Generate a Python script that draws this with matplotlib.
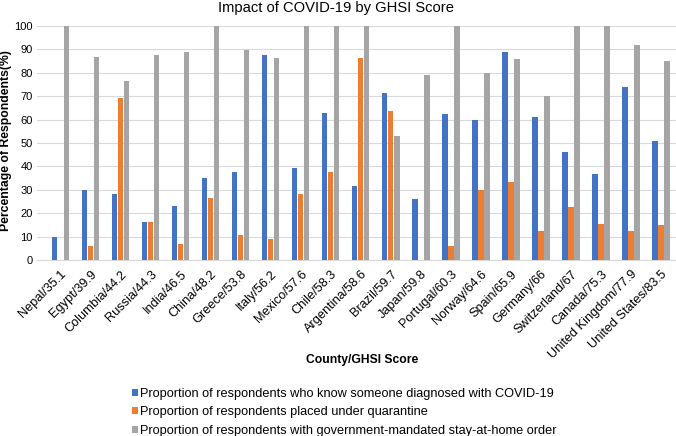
import matplotlib
matplotlib.use("Agg")
import matplotlib.pyplot as plt
import numpy as np

plt.rcParams['font.family'] = ['Liberation Sans', 'DejaVu Sans']

categories = ["Nepal/35.1", "Egypt/39.9", "Columbia/44.2", "Russia/44.3", "India/46.5",
              "China/48.2", "Greece/53.8", "Italy/56.2", "Mexico/57.6", "Chile/58.3",
              "Argentina/58.6", "Brazil/59.7", "Japan/59.8", "Portugal/60.3", "Norway/64.6",
              "Spain/65.9", "Germany/66", "Switzerland/67", "Canada/75.3",
              "United Kingdom/77.9", "United States/83.5"]
know_diagnosed = [10, 30.1, 28.3, 16.4, 23.1, 35.0, 37.5, 87.6, 39.2, 62.7,
                  31.5, 71.4, 26.2, 62.5, 60.0, 88.9, 61.1, 46.2, 36.8, 73.9, 50.9]
quarantine = [0, 6.1, 69.4, 16.4, 6.7, 26.6, 10.7, 9.1, 28.3, 37.5,
              86.3, 63.7, 0, 6.0, 29.8, 33.3, 12.3, 22.6, 15.4, 12.3, 15.1]
stay_home = [100, 86.6, 76.5, 87.6, 89.0, 100, 89.6, 86.5, 100, 100,
             100, 53.0, 79.2, 100, 80.1, 85.8, 69.9, 100, 100, 91.9, 84.9]
series_labels = ["Proportion of respondents who know someone diagnosed with COVID-19",
                 "Proportion of respondents placed under quarantine",
                 "Proportion of respondents with government-mandated stay-at-home order"]
colors = ["#4472C4", "#ED7D31", "#A5A5A5"]

W, H = 676, 436
fig = plt.figure(figsize=(W / 100, H / 100), dpi=100)
ax = fig.add_axes([37 / W, (H - 260) / H, (676 - 37) / W, (260 - 26) / H])

x = np.arange(len(categories))
bw = 0.2
handles = []
for i, (vals, c, lab) in enumerate(zip([know_diagnosed, quarantine, stay_home], colors, series_labels)):
    h = ax.bar(x + (i - 1) * bw, vals, width=bw * 0.92, color=c, label=lab, zorder=3)
    handles.append(h)

ax.set_xlim(-0.78, len(categories) - 0.5)
ax.set_ylim(0, 100)
ax.set_yticks(np.arange(0, 101, 10))
ax.yaxis.grid(True, color="#D9D9D9", linewidth=0.8, zorder=0)
ax.set_axisbelow(True)
for s in ["top", "right", "left"]:
    ax.spines[s].set_visible(False)
ax.spines["bottom"].set_color("#D9D9D9")
ax.tick_params(axis="both", length=0, colors="#000000")
ax.tick_params(axis="y", pad=3, labelsize=8)
ax.set_xticks(x)
ax.set_xticklabels(categories, rotation=45, ha="right", rotation_mode="anchor", fontsize=9.2)
ax.tick_params(axis="x", pad=6)

fig.text(6 / W, 1 - 141 / H, "Percentage of Respondents(%)", rotation=90,
         ha="center", va="center", fontsize=8.8, fontweight="bold")
fig.text(336 / W, 1 - 8 / H, "Impact of COVID-19 by GHSI Score", ha="center", va="center", fontsize=10.6)
fig.text(362 / W, 1 - 360 / H, "County/GHSI Score", ha="center", va="center", fontsize=8.7, fontweight="bold")

fig.legend(handles=handles, labels=series_labels, loc="upper left",
           bbox_to_anchor=(132 / W, 1 - 388 / H), frameon=False, fontsize=9.2,
           handlelength=0.47, handleheight=0.47, handletextpad=0.15, labelspacing=0.5,
           borderaxespad=0, borderpad=0)

fig.savefig("out.png", dpi=100)
